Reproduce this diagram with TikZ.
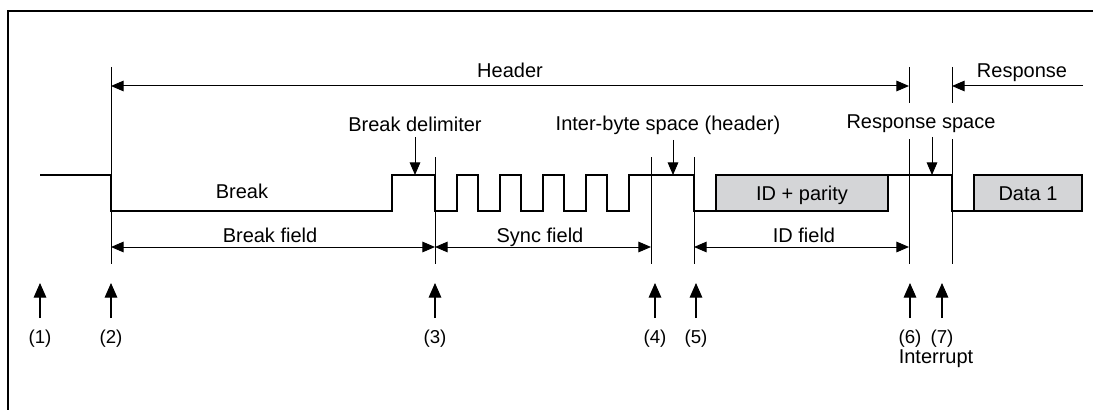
\documentclass[tikz,border=0pt]{standalone}
\usepackage{fontspec}
\setmainfont{Liberation Sans}
\usepackage{tikz}
\usetikzlibrary{arrows.meta}
\definecolor{bytegray}{RGB}{212,213,215}

\begin{document}
\begin{tikzpicture}[x=0.75pt, y=-0.75pt, font=\fontsize{15}{18}\selectfont,
	wave/.style={line width=1.5pt},
	guide/.style={line width=0.75pt},
	fieldspan/.style={line width=0.75pt, {Triangle[length=9.5pt,width=8pt]}-{Triangle[length=9.5pt,width=8pt]}},
	pointer/.style={line width=0.75pt, -{Triangle[length=9.5pt,width=8pt]}},
	event/.style={line width=0.8pt, shorten <=5pt, -{Triangle[length=11pt,width=9.5pt]}},
	bytebox/.style={draw, line width=1.5pt, fill=bytegray, minimum height=27pt, inner sep=0pt, outer sep=0pt, text height=10.7pt, text depth=0pt}]
	\useasboundingbox (0,0) rectangle (1093,410);
	\draw[line width=1.3pt] (8,410) -- (8,11) -- (1093,11);
	% data bytes
	\node[bytebox, minimum width=129pt] (idbyte) at (802,193) {ID + parity};
	\node[bytebox, minimum width=81pt] (databyte) at (1028,193) {Data 1};
	% bus level
	\draw[wave] (40,175) -| (111,211) -| (392,175) -| (435,211)
		\foreach \x in {457,500,543,586} { -| (\x,175) -| ({\x+21},211) }
		-| (629,175) -| (694,211) -- (idbyte.south west);
	\draw[wave] (idbyte.north east) -| (952,211) -- (databyte.south west);
	% guide lines
	\draw[guide] (111,67) -- (111,264);
	\foreach \x in {435,651,694} \draw[guide] (\x,157) -- (\x,264);
	\foreach \x in {909,952} {\draw[guide] (\x,67) -- (\x,103); \draw[guide] (\x,139) -- (\x,264);}
	% header and response
	\node[anchor=base] (header) at (510,78) {Header};
	\draw[fieldspan] (111,86) -- (909,86);
	\node[anchor=base] (response) at (1022,78) {Response};
	\draw[pointer] (1083,86) -- (952,86);
	% fields
	\node[anchor=base] (break) at (242,198) {Break};
	\node[anchor=base] (breakfield) at (270,242) {Break field};
	\draw[fieldspan] (111,247) -- (435,247);
	\node[anchor=base] (syncfield) at (540,242) {Sync field};
	\draw[fieldspan] (435,247) -- (651,247);
	\node[anchor=base] (idfield) at (804,242) {ID field};
	\draw[fieldspan] (694,247) -- (909,247);
	% spaces
	\node[anchor=base] (delimiter) at (415,132) {Break delimiter};
	\draw[pointer] (delimiter) -- (delimiter |- 0,175);
	\node[anchor=base] (interbyte) at (668,131) {Inter-byte space (header)};
	\draw[pointer] (interbyte.south -| 673,0) -- (673,175);
	\node[anchor=base] (respspace) at (921,128) {Response space};
	\draw[pointer] (respspace.south -| 932,0) -- (932,175);
	% interrupt points
	\foreach \x/\n in {40/1,111/2,435/3,655/4,696/5,910/6,942/7} {
		\node[anchor=base, font=\fontsize{14}{16}\selectfont] (ev\n) at (\x,343) {(\n)};
		\draw[event] (ev\n) -- (\x,283);
	}
	\node[anchor=base] (interrupt) at (936,363) {Interrupt};
\end{tikzpicture}
\end{document}
